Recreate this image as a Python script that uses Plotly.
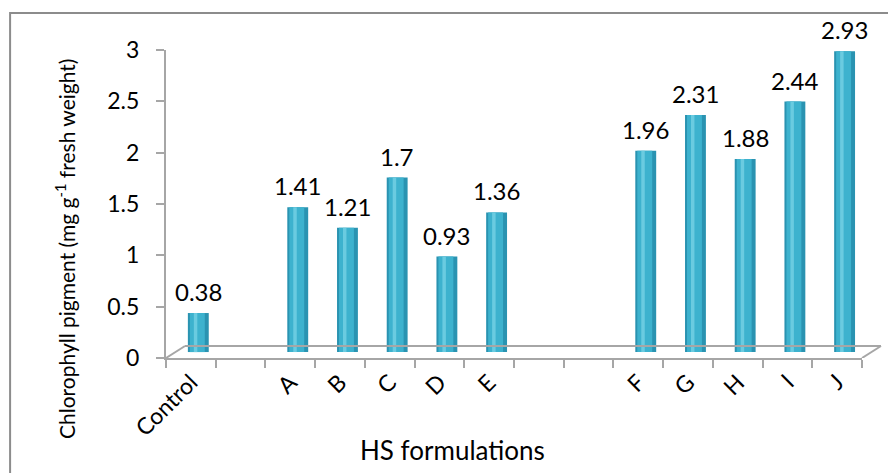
import plotly.graph_objects as go

categories = ["Control", " ", "A", "B", "C", "D", "E", "  ", "   ", "F", "G", "H", "I", "J"]
values = [0.38, None, 1.41, 1.21, 1.70, 0.93, 1.36, None, None, 1.96, 2.31, 1.88, 2.44, 2.93]
label_text = ["0.38", "", "1.41", "1.21", "1.7", "0.93", "1.36", "", "", "1.96", "2.31", "1.88", "2.44", "2.93"]
y_ticks = [0, 0.5, 1, 1.5, 2, 2.5, 3]
y_tick_text = ["0", "0.5", "1", "1.5", "2", "2.5", "3"]

FONT = "Lato, 'Open Sans', sans-serif"
GRID = "#A6A6A6"

fig = go.Figure()
# cylinder shading layers (same data, different widths)
layers = [("#2A93B1", 0.42, -0.06), ("#3DB2CE", 0.30, -0.02), ("#6ACBE0", 0.07, 0.06)]
for color, w, off in layers:
    fig.add_trace(go.Bar(x=categories, y=values, width=w, offset=off,
                         marker=dict(color=color, line=dict(width=0)),
                         yaxis="y2", hoverinfo="skip", showlegend=False))

annotations = []
for c, v, t in zip(categories, values, label_text):
    if v is None:
        continue
    annotations.append(dict(x=c, y=v, xref="x", yref="y2", text=t, showarrow=False,
                            xshift=7.5, yshift=5, yanchor="bottom",
                            font=dict(family=FONT, size=24, color="#000")))

annotations.append(dict(x=0.412, y=-0.299, xref="paper", yref="paper", text="HS formulations",
                        showarrow=False, xanchor="center", yanchor="middle",
                        font=dict(family=FONT, size=26, color="#000")))
annotations.append(dict(x=-0.145, y=0.354, xref="paper", yref="paper",
                        text="Chlorophyll pigment (mg g<sup>-1</sup> fresh weight)",
                        showarrow=False, textangle=-90, xanchor="center", yanchor="middle",
                        font=dict(family=FONT, size=21, color="#000")))

depth_y = 0.117
dx = 19 / 696
shapes = [
    # 3D floor
    dict(type="line", xref="x domain", yref="y", x0=0, y0=0, x1=dx, y1=depth_y, line=dict(color=GRID, width=2)),
    dict(type="line", xref="x domain", yref="y", x0=dx, y0=depth_y, x1=1 + dx, y1=depth_y, line=dict(color=GRID, width=2)),
    dict(type="line", xref="x domain", yref="y", x0=1, y0=0, x1=1 + dx, y1=depth_y, line=dict(color=GRID, width=2)),
    # outer frame
    dict(type="rect", xref="paper", yref="paper", x0=-0.224, x1=1.08, y0=-0.42, y1=1.12,
         line=dict(color="#8C8C8C", width=2), layer="below"),
]

fig.update_layout(
    width=888, height=465,
    margin=dict(l=158, r=34, t=42, b=115),
    paper_bgcolor="white", plot_bgcolor="white",
    barmode="overlay",
    xaxis=dict(type="category", categoryorder="array", categoryarray=categories,
               tickangle=-45, tickson="boundaries", ticks="outside", ticklen=8,
               tickcolor=GRID, tickwidth=2, showline=True, linecolor=GRID, linewidth=2,
               showgrid=False, tickfont=dict(family=FONT, size=23, color="#000"),
               range=[-0.5, len(categories) - 0.5]),
    yaxis=dict(range=[0, 3], tickvals=y_ticks, ticktext=y_tick_text, ticks="outside",
               ticklen=8, tickcolor=GRID, tickwidth=2, showline=True, linecolor=GRID,
               linewidth=2, showgrid=False, zeroline=False, ticklabelstandoff=12,
               tickfont=dict(family=FONT, size=23, color="#000")),
    yaxis2=dict(range=[-0.058, 2.942], overlaying="y", visible=False),
    annotations=annotations,
    shapes=shapes,
)

fig.write_html("out.html")
